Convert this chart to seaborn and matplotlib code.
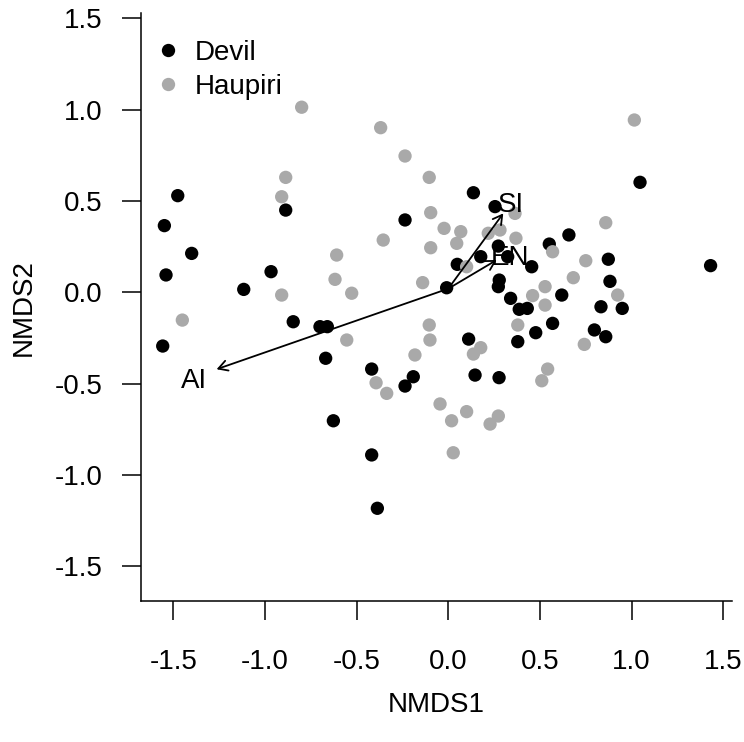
import matplotlib
matplotlib.use("Agg")
import matplotlib.pyplot as plt
import seaborn as sns
import pandas as pd

# ---- data ----
devil_x = [-1.476, -1.549, -1.400, -1.540, -0.887, -0.967, -1.116, -0.236, -0.009, -0.846,
           -1.558, -0.700, -0.660, -0.669, -0.418, -0.191, -0.236, -0.627, -0.418, -0.387,
           0.273, 0.340, 0.387, 0.431, 0.619, 0.882, 0.833, 0.949, 0.569, 0.477,
           0.379, 0.797, 0.859, 0.111, 0.146, 0.277, 0.137, 0.255, 1.046, 1.431,
           0.273, 0.177, 0.049, 0.324, 0.455, 0.551, 0.658, 0.873, 0.278]
devil_y = [0.529, 0.365, 0.213, 0.095, 0.450, 0.113, 0.016, 0.396, 0.025, -0.161,
           -0.294, -0.188, -0.188, -0.361, -0.420, -0.462, -0.513, -0.703, -0.890, -1.182,
           0.031, -0.033, -0.093, -0.088, -0.015, 0.060, -0.079, -0.088, -0.170, -0.221,
           -0.270, -0.206, -0.243, -0.256, -0.453, -0.467, 0.545, 0.469, 0.602, 0.146,
           0.253, 0.195, 0.153, 0.195, 0.140, 0.264, 0.314, 0.181, 0.067]

haupiri_x = [-0.800, -0.369, -0.236, -0.104, -0.887, -0.909, -0.096, -0.023, -0.355, -0.096,
             -0.609, -0.618, -0.527, -0.909, -0.140, -1.451, -0.554, -0.104, -0.100, -0.182,
             -0.394, -0.336, -0.045, 0.018, 0.027, 0.460, 0.528, 0.528, 0.924, 0.379,
             0.177, 0.137, 0.742, 0.542, 0.510, 0.100, 0.273, 0.228, 1.015, 0.859,
             0.364, 0.068, 0.046, 0.218, 0.282, 0.369, 0.100, 0.569, 0.750, 0.682]
haupiri_y = [1.013, 0.901, 0.746, 0.629, 0.629, 0.523, 0.436, 0.350, 0.286, 0.244,
             0.204, 0.071, -0.005, -0.015, 0.053, -0.152, -0.261, -0.179, -0.261, -0.343,
             -0.495, -0.553, -0.611, -0.703, -0.878, -0.018, 0.031, -0.070, -0.015, -0.179,
             -0.303, -0.338, -0.285, -0.420, -0.484, -0.653, -0.677, -0.721, 0.943, 0.381,
             0.432, 0.332, 0.268, 0.323, 0.341, 0.296, 0.140, 0.222, 0.173, 0.080]

vec_names = ["AI", "SI", "EN"]
vec_x0 = [0.0, 0.0, 0.0]
vec_y0 = [0.02, 0.02, 0.02]
vec_x1 = [-1.264, 0.300, 0.264]
vec_y1 = [-0.421, 0.432, 0.177]
lab_x = [-1.386, 0.343, 0.338]
lab_y = [-0.484, 0.478, 0.188]

x_ticks = [-1.5, -1.0, -0.5, 0.0, 0.5, 1.0, 1.5]
y_ticks = [-1.5, -1.0, -0.5, 0.0, 0.5, 1.0, 1.5]

df = pd.DataFrame({
    "NMDS1": devil_x + haupiri_x,
    "NMDS2": devil_y + haupiri_y,
    "site": ["Devil"] * len(devil_x) + ["Haupiri"] * len(haupiri_x),
})

sns.set_style("ticks")
plt.rcParams["font.family"] = ["Liberation Sans", "DejaVu Sans"]
plt.rcParams["text.color"] = "black"
plt.rcParams["axes.labelcolor"] = "black"

FS = 20

fig = plt.figure(figsize=(7.44, 7.42), dpi=100)
ax = fig.add_axes([141 / 744, 1 - 601.3 / 742, 591 / 744, 588 / 742])

sns.scatterplot(data=df, x="NMDS1", y="NMDS2", hue="site",
                palette={"Devil": "black", "Haupiri": "#A9A9A9"},
                s=92, linewidth=0, edgecolor="none", ax=ax, legend=True)

for n, xa, ya, xb, yb, lx, ly in zip(vec_names, vec_x0, vec_y0, vec_x1, vec_y1, lab_x, lab_y):
    ax.annotate("", xy=(xb, yb), xytext=(xa, ya),
                arrowprops=dict(arrowstyle="->,head_length=0.65,head_width=0.37",
                                lw=1.3, color="black", shrinkA=0, shrinkB=0,
                                mutation_scale=10))
    ax.text(lx, ly, n, ha="center", va="center", fontsize=FS, color="black")

ax.set_xlim(-1.6765, 1.5478)
ax.set_ylim(-1.691, 1.527)
ax.set_xticks(x_ticks)
ax.set_yticks(y_ticks)
ax.set_xticklabels([f"{v:.1f}" for v in x_ticks])
ax.set_yticklabels([f"{v:.1f}" for v in y_ticks])

for sp in ["top", "right"]:
    ax.spines[sp].set_visible(False)
for sp in ["left", "bottom"]:
    ax.spines[sp].set_linewidth(1.1)
    ax.spines[sp].set_color("black")

ax.tick_params(axis="both", direction="out", length=13.7, width=1.1,
               labelsize=FS, colors="black")
ax.tick_params(axis="x", pad=21)
ax.tick_params(axis="y", pad=14)

ax.set_xlabel("NMDS1", fontsize=FS)
ax.set_ylabel("NMDS2", fontsize=FS)
ax.xaxis.label.set_va("center")
ax.yaxis.label.set_va("center")
ax.xaxis.set_label_coords(0.5, (601.3 - 705) / 588)
ax.yaxis.set_label_coords((24 - 141) / 591, 0.5)

leg = ax.legend(loc="upper left", bbox_to_anchor=(0.031, 0.955), frameon=False,
                fontsize=FS, handlelength=0.6, handletextpad=0.66,
                labelspacing=0.3, borderpad=0, borderaxespad=0, markerscale=1.0)
for t in leg.get_texts():
    t.set_color("black")

fig.savefig("out.png", dpi=100)
